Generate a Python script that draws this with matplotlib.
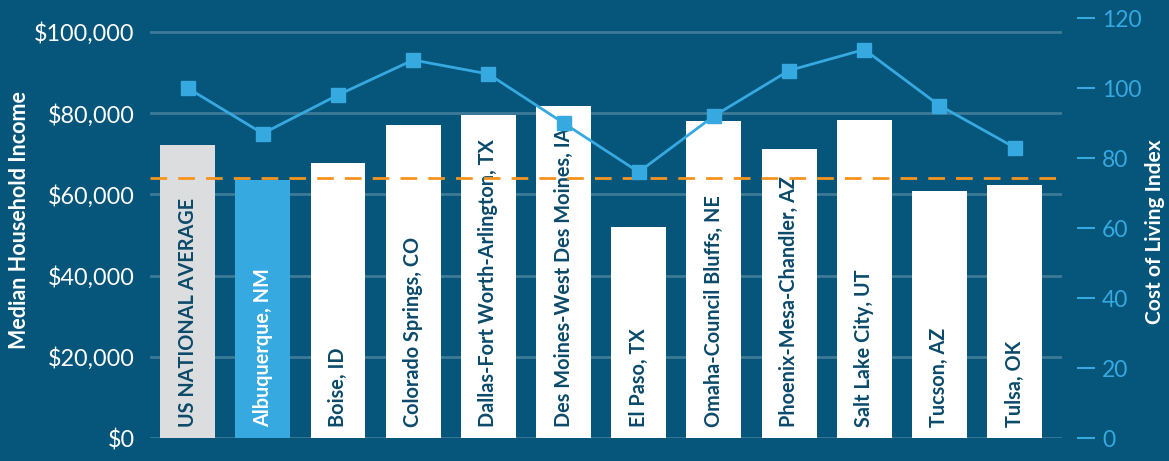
import matplotlib.pyplot as plt
import numpy as np

plt.rcParams['font.family'] = ['Lato', 'DejaVu Sans']

cities = ["US NATIONAL AVERAGE", "Albuquerque, NM", "Boise, ID", "Colorado Springs, CO",
          "Dallas-Fort Worth-Arlington, TX", "Des Moines-West Des Moines, IA", "El Paso, TX",
          "Omaha-Council Bluffs, NE", "Phoenix-Mesa-Chandler, AZ", "Salt Lake City, UT",
          "Tucson, AZ", "Tulsa, OK"]
income = [72200, 63500, 67700, 77100, 79600, 81800, 52000, 78100, 71200, 78300, 60800, 62300]
col_index = [100, 87, 98, 108, 104, 90, 76, 92, 105, 111, 95, 83]
albuquerque_line = 64000
income_ticks = [0, 20000, 40000, 60000, 80000, 100000]
index_ticks = [0, 20, 40, 60, 80, 100, 120]

bg = '#06557a'
blue = '#36a9e1'
navy = '#0b4a6a'

fig = plt.figure(figsize=(11.69, 4.61), dpi=100, facecolor=bg)
ax = fig.add_axes([150 / 1169, 1 - 438 / 461, 912 / 1169, 420 / 461])
ax.set_facecolor(bg)

x = np.arange(len(cities))
colors = ['#dcddde', blue] + ['white'] * (len(cities) - 2)
ax.bar(x, income, width=0.73, color=colors, zorder=2)

for i, name in enumerate(cities):
    ax.text(i, 2700, name, rotation=90, ha='center', va='bottom', fontsize=14.3,
            fontweight='bold', color='white' if i == 1 else navy, zorder=3)

ax.axhline(albuquerque_line, color='#f7941d', lw=2, dashes=(6, 4), zorder=4)

ax.set_xlim(-0.5, 11.63)
ax.set_ylim(0, 103450)
ax.set_yticks(income_ticks)
ax.set_yticklabels(['${:,}'.format(v) for v in income_ticks])
ax.tick_params(axis='y', length=0, pad=11, labelsize=16.8, labelcolor='white')
ax.set_xticks([])
ax.grid(axis='y', color='#3f7a98', lw=2, zorder=0)
ax.set_axisbelow(True)
for s in ax.spines.values():
    s.set_visible(False)

# right axis: cost of living index
ax2 = ax.twinx()
ax2.plot(x, col_index, color=blue, lw=2, marker='s', markersize=9.5, zorder=5)
ax2.set_ylim(0, 120)
ax2.set_yticks(index_ticks)
ax2.spines['right'].set_position(('outward', 10.8))
for s in ax2.spines.values():
    s.set_visible(False)
ax2.tick_params(axis='y', direction='out', length=13, width=1.5, color=blue,
                pad=5, labelsize=16.5, labelcolor=blue)

fig.text(20 / 1169, 1 - 220 / 461, 'Median Household Income', rotation=90,
         ha='center', va='center', fontsize=15.5, fontweight='bold', color='white')
fig.text(1155 / 1169, 1 - 232 / 461, 'Cost of Living Index', rotation=90,
         ha='center', va='center', fontsize=15, fontweight='bold', color='white')

fig.savefig('out.png', dpi=100, facecolor=bg)
